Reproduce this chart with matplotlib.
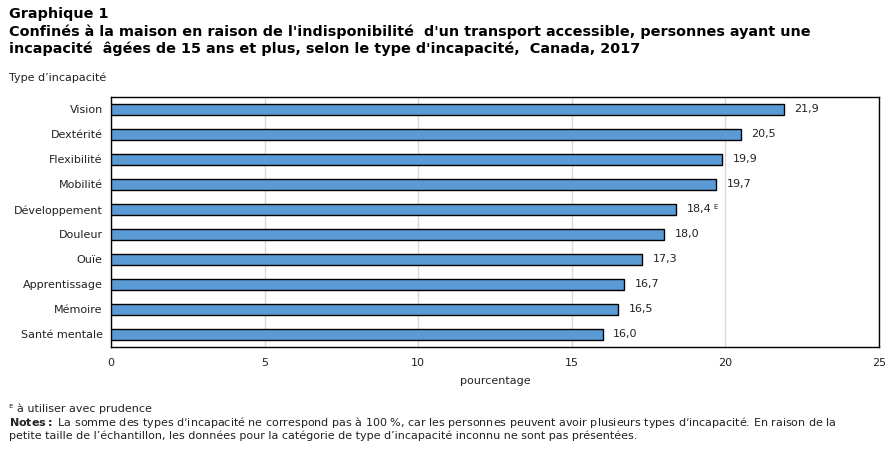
import numpy as np
import matplotlib.pyplot as plt

categories = ["Vision", "Dextérité", "Flexibilité", "Mobilité", "Développement",
              "Douleur", "Ouïe", "Apprentissage", "Mémoire", "Santé mentale"]
values = [21.9, 20.5, 19.9, 19.7, 18.4, 18.0, 17.3, 16.7, 16.5, 16.0]
flags = ["", "", "", "", "E", "", "", "", "", ""]
xticks = [0, 5, 10, 15, 20, 25]

plt.rcParams['font.family'] = ['DejaVu Sans']

fig = plt.figure(figsize=(8.95, 4.57), dpi=100)
ax = fig.add_axes([111/895, 1-347/457, 768/895, 250/457])

y = np.arange(len(categories))
ax.barh(y, values, height=0.46, color="#5B9BD5", edgecolor="black", linewidth=1, zorder=3)
for yi, v, f in zip(y, values, flags):
    lab = f"{v:.1f}".replace(".", ",")
    t = ax.text(v + 0.35, yi, lab, va="center", ha="left", fontsize=8, color="#222222")
    if f:
        ax.annotate(f, xy=(1, 0.75), xycoords=t, xytext=(1, 0), textcoords="offset points",
                    fontsize=5, va="center", ha="left", color="#222222")

ax.set_ylim(len(categories) - 0.5, -0.5)
ax.set_xlim(0, 25)
ax.set_yticks(y)
ax.set_yticklabels(categories, fontsize=8, color="#222222")
ax.set_xticks(xticks)
ax.set_xticklabels([str(t) for t in xticks], fontsize=8, color="#222222")
ax.tick_params(axis="both", length=0, pad=6)
ax.tick_params(axis="x", pad=8)
ax.grid(axis="x", color="#d9d9d9", linewidth=1, zorder=0)
for s in ax.spines.values():
    s.set_color("black")
    s.set_linewidth(1)
ax.set_xlabel("pourcentage", fontsize=8, color="#222222", labelpad=6)

fig.text(9/895, 1-14/457, "Graphique 1", fontsize=10.4, fontweight="bold", va="center")
fig.text(9/895, 1-32/457, "Confinés à la maison en raison de l'indisponibilité  d'un transport accessible, personnes ayant une",
         fontsize=10.4, fontweight="bold", va="center")
fig.text(9/895, 1-49/457, "incapacité  âgées de 15 ans et plus, selon le type d'incapacité,  Canada, 2017",
         fontsize=10.4, fontweight="bold", va="center")
fig.text(9/895, 1-78/457, "Type d’incapacité", fontsize=8, va="center", color="#222222")

fig.text(9/895, 1-409/457, "ᴱ à utiliser avec prudence", fontsize=8, va="center", color="#222222")
fig.text(9/895, 1-423/457, r"$\bf{Notes :}$ La somme des types d’incapacité ne correspond pas à 100 %, car les personnes peuvent avoir plusieurs types d’incapacité. En raison de la",
         fontsize=8, va="center", color="#222222")
fig.text(9/895, 1-436/457, "petite taille de l’échantillon, les données pour la catégorie de type d’incapacité inconnu ne sont pas présentées.",
         fontsize=8, va="center", color="#222222")

fig.savefig("out.png", dpi=100)
